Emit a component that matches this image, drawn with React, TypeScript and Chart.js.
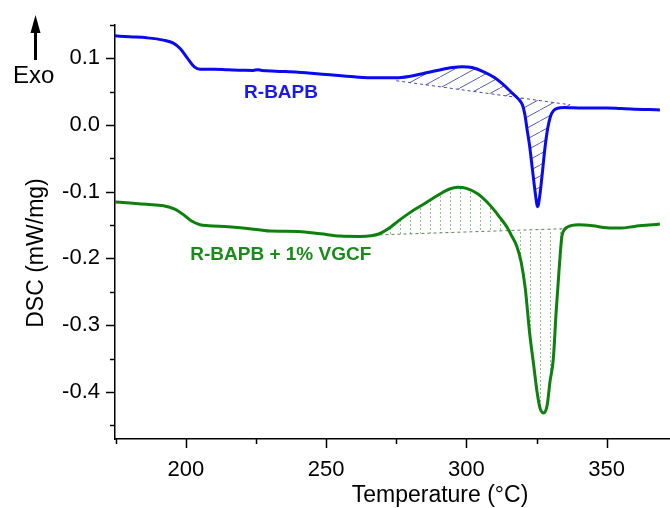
import React, { useEffect, useRef } from 'react';
import { Chart, registerables } from 'chart.js';

Chart.register(...registerables);

// ---------- data ----------
const blueT = [174.5, 180, 186, 192, 195.5, 198, 200.5, 203, 205, 210, 215, 220, 224, 225.5, 227, 232, 240, 250, 260, 268, 275, 280, 285, 290, 295, 298.5, 302, 306, 310, 313, 316, 318.5, 320, 321, 321.5, 322.5, 323.5, 324.5, 325.4, 326.2, 327, 328, 329, 330, 331, 332.5, 335, 337, 340, 345, 350, 355, 360, 365, 369];
const blueV = [0.1335, 0.132, 0.1305, 0.127, 0.1225, 0.114, 0.1, 0.087, 0.0835, 0.0835, 0.0825, 0.082, 0.0817, 0.0827, 0.0817, 0.0805, 0.079, 0.0755, 0.072, 0.0705, 0.0705, 0.073, 0.0775, 0.082, 0.086, 0.0873, 0.086, 0.08, 0.071, 0.061, 0.049, 0.039, 0.03, 0.012, -0.003, -0.03, -0.065, -0.1, -0.1225, -0.105, -0.075, -0.035, -0.005, 0.013, 0.021, 0.025, 0.026, 0.0258, 0.0255, 0.0255, 0.0255, 0.0245, 0.0235, 0.023, 0.0225];

const greenT = [174.5, 180, 186, 192, 196, 199, 202, 205, 208, 215, 222, 230, 240, 248, 255, 262, 266, 269, 272, 276, 280, 285, 290, 294, 297, 300, 304, 307, 310, 312, 314.3, 316, 318, 319.5, 321, 322.5, 324, 325.2, 326.3, 327.6, 328.8, 329.8, 331, 332, 333, 334, 334.5, 336, 340, 345, 350, 355, 360, 365, 369];
const greenV = [-0.1155, -0.117, -0.119, -0.121, -0.126, -0.134, -0.144, -0.1495, -0.151, -0.1525, -0.155, -0.159, -0.1595, -0.163, -0.1665, -0.167, -0.166, -0.163, -0.156, -0.143, -0.131, -0.118, -0.105, -0.096, -0.0935, -0.095, -0.103, -0.114, -0.128, -0.139, -0.152, -0.165, -0.182, -0.205, -0.245, -0.31, -0.36, -0.4, -0.425, -0.4316, -0.42, -0.385, -0.35, -0.28, -0.22, -0.168, -0.16, -0.153, -0.1495, -0.151, -0.154, -0.1545, -0.152, -0.15, -0.1485];

const blueBaseT = [275, 337];
const blueBaseV = [0.0662, 0.0302];
const greenBaseT = [269, 334.5];
const greenBaseV = [-0.1647, -0.1555];

const seriesNames = ['R-BAPB', 'R-BAPB + 1% VGCF'];

const xMajorTicks = [200, 250, 300, 350];
const xMajorLabels = ['200', '250', '300', '350'];
const xMinorTicks = [175, 225, 275, 325];
const yMajorTicks = [0.1, 0, -0.1, -0.2, -0.3, -0.4];
const yMajorLabels = ['0.1', '0.0', '-0.1', '-0.2', '-0.3', '-0.4'];
const yMinorTicks = [0.15, 0.05, -0.05, -0.15, -0.25, -0.35, -0.45];

const xTitle = 'Temperature (°C)';
const yTitle = 'DSC (mW/mg)';
const exoText = 'Exo';

// ---------- styles ----------
const FONT = '"Liberation Sans", Arial, Helvetica, sans-serif';
const BLUE = '#0a0af0';
const GREEN = '#0e800e';
const BLUE_TEXT = '#1a1ae8';
const GREEN_TEXT = '#1a8a1a';

const toXY = (t: number[], v: number[]) => t.map((x, i) => ({ x, y: v[i] }));
const within = (pts: { x: number; y: number }[], lo: number, hi: number) =>
  pts.filter((p) => p.x >= lo && p.x <= hi);

function makeDiagPattern(ctx: CanvasRenderingContext2D) {
  const w = 20;
  const h = 11;
  const c = document.createElement('canvas');
  c.width = w;
  c.height = h;
  const g = c.getContext('2d')!;
  g.strokeStyle = 'rgba(60,60,160,0.85)';
  g.lineWidth = 1;
  g.beginPath();
  g.moveTo(-2, h + (2 * h) / w);
  g.lineTo(w + 2, -(2 * h) / w);
  g.stroke();
  return ctx.createPattern(c, 'repeat')!;
}

function makeDotPattern(ctx: CanvasRenderingContext2D) {
  const c = document.createElement('canvas');
  c.width = 10;
  c.height = 4;
  const g = c.getContext('2d')!;
  g.fillStyle = 'rgba(120,175,120,0.8)';
  g.fillRect(0, 0, 1, 2);
  return ctx.createPattern(c, 'repeat')!;
}

const decorPlugin = {
  id: 'decor',
  afterDraw(chart: any) {
    const { ctx, chartArea: area } = chart;
    const xs = chart.scales.x;
    const ys = chart.scales.y;
    ctx.save();
    ctx.strokeStyle = '#000';
    ctx.lineWidth = 1.5;
    ctx.beginPath();
    xMajorTicks.forEach((v) => {
      const p = Math.round(xs.getPixelForValue(v)) + 0.5;
      ctx.moveTo(p, area.bottom);
      ctx.lineTo(p, area.bottom + 9);
    });
    xMinorTicks.forEach((v) => {
      const p = Math.round(xs.getPixelForValue(v)) + 0.5;
      ctx.moveTo(p, area.bottom);
      ctx.lineTo(p, area.bottom + 5);
    });
    yMajorTicks.forEach((v) => {
      const p = Math.round(ys.getPixelForValue(v)) + 0.5;
      ctx.moveTo(area.left, p);
      ctx.lineTo(area.left - 9, p);
    });
    yMinorTicks.forEach((v) => {
      const p = Math.round(ys.getPixelForValue(v)) + 0.5;
      ctx.moveTo(area.left, p);
      ctx.lineTo(area.left - 5, p);
    });
    ctx.stroke();

    // axis titles
    ctx.fillStyle = '#000';
    ctx.font = `23px ${FONT}`;
    ctx.textAlign = 'center';
    ctx.textBaseline = 'middle';
    ctx.fillText(xTitle, 440, 496);
    ctx.save();
    ctx.translate(37, 253);
    ctx.rotate(-Math.PI / 2);
    ctx.fillText(yTitle, 0, 0);
    ctx.restore();

    // Exo arrow
    ctx.strokeStyle = '#000';
    ctx.lineWidth = 3;
    ctx.beginPath();
    ctx.moveTo(35.5, 60);
    ctx.lineTo(35.5, 28);
    ctx.stroke();
    ctx.beginPath();
    ctx.moveTo(35.5, 15);
    ctx.lineTo(30.5, 33);
    ctx.lineTo(40.5, 33);
    ctx.closePath();
    ctx.fill();
    ctx.font = `24px ${FONT}`;
    ctx.textAlign = 'left';
    ctx.textBaseline = 'alphabetic';
    ctx.fillText(exoText, 13, 83);

    // series labels
    ctx.font = `bold 19px ${FONT}`;
    ctx.textAlign = 'center';
    ctx.textBaseline = 'middle';
    ctx.fillStyle = BLUE_TEXT;
    ctx.fillText(seriesNames[0], xs.getPixelForValue(233.9), ys.getPixelForValue(0.0488));
    ctx.fillStyle = GREEN_TEXT;
    ctx.fillText(seriesNames[1], xs.getPixelForValue(233.8), ys.getPixelForValue(-0.1946));
    ctx.restore();
  },
};

export default function App() {
  const ref = useRef<HTMLCanvasElement>(null);

  useEffect(() => {
    const canvas = ref.current!;
    const ctx = canvas.getContext('2d')!;
    const blue = toXY(blueT, blueV);
    const green = toXY(greenT, greenV);
    const blueBase = toXY(blueBaseT, blueBaseV);
    const greenBase = toXY(greenBaseT, greenBaseV);
    const diag = makeDiagPattern(ctx);
    const dots = makeDotPattern(ctx);

    const chart = new Chart(canvas, {
      type: 'line',
      data: {
        datasets: [
          { label: seriesNames[0], data: blue, borderColor: BLUE, borderWidth: 3, pointRadius: 0, cubicInterpolationMode: 'monotone', fill: false },
          { label: seriesNames[1], data: green, borderColor: GREEN, borderWidth: 3, pointRadius: 0, cubicInterpolationMode: 'monotone', fill: false },
          { label: 'blue baseline', data: blueBase, borderColor: 'rgba(50,50,170,0.9)', borderWidth: 1, borderDash: [3, 3], pointRadius: 0, fill: false },
          { label: 'green baseline', data: greenBase, borderColor: 'rgba(70,120,70,0.9)', borderWidth: 1, borderDash: [3, 3], pointRadius: 0, fill: false },
          { label: 'blue area', data: within(blue, blueBaseT[0], blueBaseT[1]), borderWidth: 0, borderColor: 'rgba(0,0,0,0)', pointRadius: 0, cubicInterpolationMode: 'monotone', backgroundColor: diag, fill: { target: 2, above: diag, below: diag } },
          { label: 'green area', data: within(green, greenBaseT[0], greenBaseT[1]), borderWidth: 0, borderColor: 'rgba(0,0,0,0)', pointRadius: 0, cubicInterpolationMode: 'monotone', backgroundColor: dots, fill: { target: 3, above: dots, below: dots } },
        ],
      },
      options: {
        responsive: false,
        animation: false,
        devicePixelRatio: 1,
        events: [],
        layout: { padding: { top: 25, right: 0, bottom: 0, left: 0 } },
        plugins: { legend: { display: false }, tooltip: { enabled: false } },
        scales: {
          x: {
            type: 'linear',
            position: 'bottom',
            min: 174.7,
            max: 372.6,
            afterBuildTicks: (s: any) => { s.ticks = xMajorTicks.map((v) => ({ value: v })); },
            afterFit: (s: any) => { s.height = 69; },
            grid: { display: true, drawOnChartArea: false, drawTicks: true, tickLength: 9, color: 'rgba(0,0,0,0)', tickColor: 'rgba(0,0,0,0)' },
            border: { display: true, color: '#000', width: 1.5 },
            ticks: { autoSkip: false, maxRotation: 0, padding: 9, color: '#000', font: { family: FONT, size: 22 }, callback: (_v: any, i: number) => xMajorLabels[i] },
          },
          y: {
            type: 'linear',
            min: -0.4705,
            max: 0.1497,
            afterBuildTicks: (s: any) => { s.ticks = yMajorTicks.map((v) => ({ value: v })); },
            afterFit: (s: any) => { s.width = 115; },
            grid: { display: true, drawOnChartArea: false, drawTicks: true, tickLength: 9, color: 'rgba(0,0,0,0)', tickColor: 'rgba(0,0,0,0)' },
            border: { display: true, color: '#000', width: 1.5 },
            ticks: { autoSkip: false, padding: 6, color: '#000', font: { family: FONT, size: 22 }, callback: (_v: any, i: number) => yMajorLabels[i] },
          },
        },
      },
      plugins: [decorPlugin],
    } as any);

    return () => chart.destroy();
  }, []);

  return (
    <div style={{ position: 'fixed', left: 0, top: 0, width: 670, height: 508, overflow: 'hidden', background: '#fff' }}>
      <canvas ref={ref} width={670} height={508} style={{ display: 'block', width: 670, height: 508 }} />
    </div>
  );
}
